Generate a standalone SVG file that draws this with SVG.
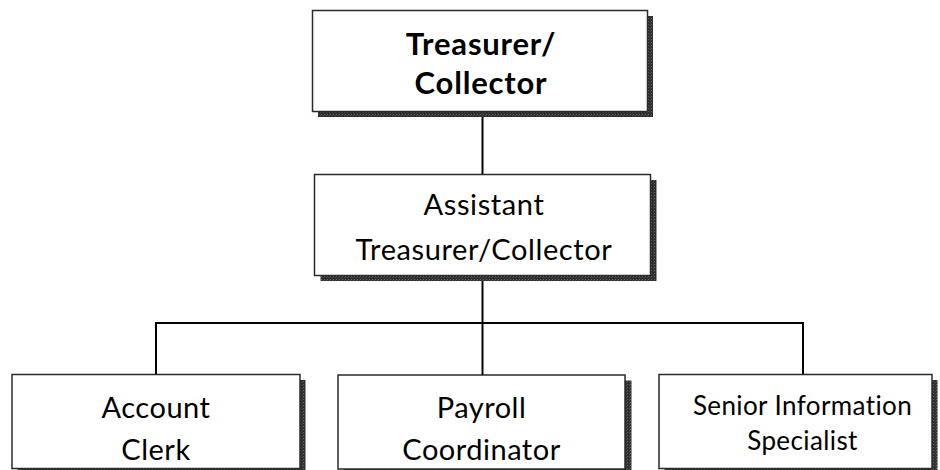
<svg xmlns="http://www.w3.org/2000/svg" width="940" height="470" viewBox="0 0 940 470">
  <style>
    .box { fill: #ffffff; stroke: #2a2a2a; stroke-width: 1.5; }
    .shadow { fill: url(#grain); }
    .lbl { font-family: "Lato", "Open Sans", "Liberation Sans", sans-serif; fill: #000000; text-anchor: middle; }
    .link { fill: none; stroke: #000000; stroke-width: 2; }
  </style>
  <defs>
    <!-- fine dark grain used for the drop shadows -->
    <pattern id="grain" width="3" height="3" patternUnits="userSpaceOnUse">
      <rect width="3" height="3" fill="#2e2e2e"/>
      <rect x="0" y="0" width="1" height="1" fill="#6a6a6a"/>
      <rect x="2" y="1" width="1" height="1" fill="#4a4a4a"/>
    </pattern>
  </defs>
  <rect width="940" height="470" fill="#ffffff"/>

  <g id="connectors">
    <line class="link" x1="482.5" y1="111" x2="482.5" y2="174"/>
    <line class="link" x1="482.5" y1="276" x2="482.5" y2="375"/>
    <polyline class="link" points="156,374 156,323 803,323 803,374"/>
  </g>

  <g id="treasurer">
    <rect class="shadow" x="318" y="16" width="335" height="101"/>
    <rect class="box" x="312.5" y="10.5" width="335" height="101"/>
    <text class="lbl" x="481" y="55" font-size="31" font-weight="bold" letter-spacing="0.8">Treasurer/</text>
    <text class="lbl" x="481" y="94" font-size="31" font-weight="bold" letter-spacing="0.8">Collector</text>
  </g>

  <g id="assistant">
    <rect class="shadow" x="320.5" y="180" width="336" height="101"/>
    <rect class="box" x="314.5" y="174.5" width="336" height="101"/>
    <text class="lbl" x="484" y="215" font-size="29" letter-spacing="0.6">Assistant</text>
    <text class="lbl" x="484" y="260" font-size="29" letter-spacing="0.6">Treasurer/Collector</text>
  </g>

  <g id="account-clerk">
    <rect class="shadow" x="17.5" y="380" width="288" height="95"/>
    <rect class="box" x="12" y="374.5" width="288" height="94"/>
    <text class="lbl" x="156" y="418" font-size="29" letter-spacing="0.5">Account</text>
    <text class="lbl" x="156" y="460" font-size="29" letter-spacing="0.5">Clerk</text>
  </g>

  <g id="payroll-coordinator">
    <rect class="shadow" x="343.5" y="380.5" width="288" height="95"/>
    <rect class="box" x="338" y="375" width="287" height="94"/>
    <text class="lbl" x="481.5" y="418" font-size="29" letter-spacing="0.5">Payroll</text>
    <text class="lbl" x="481.5" y="460" font-size="29" letter-spacing="0.5">Coordinator</text>
  </g>

  <g id="senior-information-specialist">
    <rect class="shadow" x="664.5" y="380" width="273" height="95"/>
    <rect class="box" x="659" y="374.5" width="273" height="94"/>
    <text class="lbl" x="802.5" y="415" font-size="26" letter-spacing="0.4">Senior Information</text>
    <text class="lbl" x="802.5" y="450" font-size="26" letter-spacing="0.4">Specialist</text>
  </g>
</svg>
